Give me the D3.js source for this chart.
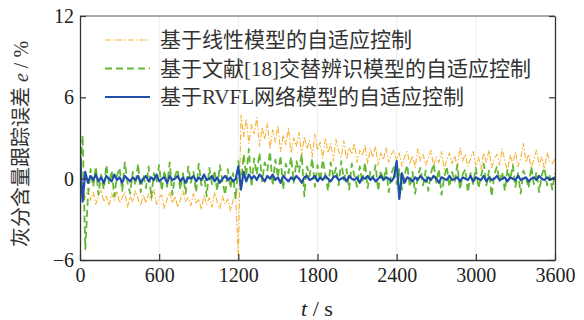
<!DOCTYPE html>
<html>
<head>
<meta charset="utf-8">
<script src="https://cdn.jsdelivr.net/npm/d3@7"></script>
<style>
  body { margin: 0; background: #fff; }
  svg { display: block; }
</style>
</head>
<body>
<svg id="chart" width="584" height="320"></svg>
<script>
// sample step of every series, in seconds
var dt = 20;

var xTicks = [0, 600, 1200, 1800, 2400, 3000, 3600];
var yTicks = [-6, 0, 6, 12];

var seriesNames = [
    "基于线性模型的自适应控制",
    "基于文献[18]交替辨识模型的自适应控制",
    "基于RVFL网络模型的自适应控制"
];

// tracking error e / %, every 20 s
var linearErr = [
    -0.3, -0.9, -1.4, -0.7, -1.6, -1.0, -1.9, -1.2, -0.8, -1.7,
    -1.3, -2.0, -1.1, -1.6, -0.9, -1.8, -1.4, -1.0, -2.1, -1.3,
    -1.7, -0.9, -1.5, -2.0, -1.2, -1.8, -1.1, -1.6, -0.8, -1.9,
    -1.4, -1.2, -2.2, -1.5, -1.0, -1.8, -1.3, -2.1, -1.6, -0.9,
    -1.7, -1.4, -2.0, -1.1, -1.8, -1.5, -2.3, -1.2, -1.9, -1.4,
    -2.1, -1.0, -1.7, -2.2, -1.3, -1.9, -1.5, -2.4, -1.6, -1.1,
    -5.9, 4.7, 3.1, 4.4, 2.6, 4.0, 3.3, 4.5, 2.4, 3.8,
    2.9, 4.1, 2.2, 3.6, 2.7, 3.9, 2.0, 3.2, 2.5, 3.7,
    1.9, 3.0, 2.4, 3.4, 1.7, 3.1, 2.2, 2.8, 1.6, 3.3,
    2.1, 2.7, 1.5, 3.0, 1.9, 2.6, 1.3, 2.9, 2.0, 1.6,
    2.8, 1.4, 2.3, 1.8, 2.6, 1.2, 2.1, 1.7, 2.5, 1.1,
    2.2, 1.6, 2.4, 1.0, 1.9, 1.4, 2.3, 1.2, 1.8, 2.1,
    1.3, 1.9, 0.9, 1.6, 2.0, 1.1, 1.7, 0.8, 2.2, 1.3,
    1.8, 1.0, 1.5, 2.1, 0.9, 1.6, 1.2, 2.0, 0.7, 1.4,
    1.9, 1.1, 1.7, 0.8, 2.3, 1.3, 1.8, 0.9, 1.5, 2.0,
    1.0, 1.6, 0.7, 1.9, 1.2, 2.1, 0.8, 1.4, 1.8, 1.0,
    2.2, 1.3, 0.6, 1.7, 1.1, 2.0, 0.9, 1.5, 2.6, 1.2,
    1.8, 0.8, 1.4, 2.1, 1.0, 1.6, 0.7, 1.9, 1.3, 1.1,
    1.5
];

var altErr = [
    0.2, 3.2, -5.2, -1.4, 0.7, -0.6, 0.9, -1.2, 0.3, -0.8,
    1.0, -0.4, 0.6, -1.3, 0.2, 0.8, -0.9, 1.2, -0.3, -1.1,
    0.5, -0.5, 1.1, -1.0, 0.3, -0.7, 0.9, -1.4, 0.4, -0.2,
    1.0, -0.9, 0.6, -0.6, 1.2, -1.2, 0.2, 0.7, -0.8, 0.4,
    -1.1, 0.9, -0.3, 0.5, -1.0, 1.1, -0.5, 0.3, -1.3, 0.8,
    -0.4, 0.6, -0.9, 1.0, -0.2, -1.2, 0.7, -0.7, 0.4, -1.5,
    1.3, -0.4, 1.8, 0.2, 2.2, -0.6, 1.5, 0.3, 1.9, -0.2,
    1.2, 0.6, 2.0, -0.5, 1.4, 0.1, 1.7, -0.8, 1.1, 0.4,
    1.6, -0.3, 1.3, 0.5, 1.8, -1.3, 0.9, 0.2, 1.5, -0.6,
    1.0, -0.2, 1.4, 0.3, -0.9, 1.2, 0.1, 0.8, -0.5, 1.3,
    -0.1, 0.7, -0.8, 1.1, 0.2, -0.6, 0.9, -0.3, 1.2, -0.7,
    0.5, 0.0, 1.0, -0.9, 0.6, -0.2, 0.8, -1.0, 0.4, 0.9,
    -0.4, 0.7, -0.8, 0.3, 1.0, -0.6, 0.5, -1.1, 0.2, 0.8,
    -0.5, 0.6, -0.9, 0.4, 1.1, -0.3, 0.7, -1.2, 0.1, 0.9,
    -0.6, 0.5, -0.2, 1.0, -0.8, 0.3, 0.7, -1.0, 0.4, -0.4,
    0.8, -0.7, 0.2, 1.1, -0.5, 0.6, -1.3, 0.3, 0.9, -0.2,
    0.5, -0.9, 0.7, -0.1, 1.0, -0.6, 0.4, -1.1, 0.6, 0.1,
    -0.7, 0.9, -0.4, 0.5, -1.0, 0.3, 0.8, -0.5, 0.2, -0.8,
    0.4
];

var rvflErr = [
    1.9, -1.7, 0.5, -0.3, 0.2, -0.1, 0.3, -0.2, 0.1, -0.3,
    0.2, 0.0, -0.2, 0.3, -0.1, 0.1, -0.3, 0.2, 0.0, -0.2,
    0.1, -0.1, 0.2, -0.3, 0.0, 0.2, -0.2, 0.1, -0.1, 0.3,
    -0.2, 0.0, 0.1, -0.3, 0.2, -0.1, 0.0, 0.2, -0.2, 0.1,
    -0.3, 0.1, 0.0, 0.2, -0.2, 0.1, -0.1, 0.3, -0.1, 0.0,
    0.2, -0.2, 0.1, -0.3, 0.0, 0.2, -0.1, 0.1, -0.2, 0.0,
    0.9, -0.8, 0.5, -0.2, 0.3, 0.0, 0.2, -0.1, 0.3, 0.1,
    -0.2, 0.2, 0.0, 0.3, -0.1, 0.1, -0.3, 0.2, 0.0, -0.2,
    0.1, -0.1, 0.2, 0.0, -0.3, 0.1, 0.2, -0.1, 0.0, 0.2,
    -0.2, 0.1, -0.1, 0.2, 0.0, -0.2, 0.1, 0.2, -0.1, 0.0,
    0.1, -0.2, 0.2, 0.0, -0.1, 0.1, -0.3, 0.1, 0.0, 0.2,
    -0.1, 0.1, -0.2, 0.0, 0.2, -0.1, 0.1, 0.0, -0.2, 0.1,
    1.3, -1.5, 0.4, -0.3, 0.1, 0.0, -0.2, 0.1, -0.1, 0.2,
    0.0, -0.2, 0.1, -0.1, 0.2, 0.0, -0.3, 0.1, 0.0, -0.1,
    0.2, -0.1, 0.0, 0.1, -0.2, 0.1, 0.0, -0.1, 0.2, -0.2,
    0.1, 0.0, -0.1, 0.2, -0.2, 0.1, -0.1, 0.0, 0.2, -0.1,
    0.0, 0.1, -0.2, 0.1, 0.0, -0.1, 0.2, -0.1, 0.0, 0.1,
    -0.2, 0.0, 0.1, -0.1, 0.2, 0.0, -0.1, 0.1, -0.1, 0.0,
    0.1
];

var margin = {top: 16, right: 29, bottom: 60, left: 80};
var width = 584 - margin.left - margin.right,
    height = 320 - margin.top - margin.bottom;

var svg = d3.select("#chart");
var g = svg.append("g")
    .attr("transform", "translate(" + margin.left + "," + margin.top + ")");

var x = d3.scaleLinear().domain([0, 3600]).range([0, width]);
var y = d3.scaleLinear().domain([-6, 12]).range([height, 0]);

var numFont = "'Liberation Serif', 'Times New Roman', 'Noto Sans CJK SC', serif";

// faint vertical grid
g.selectAll("line.grid")
    .data(xTicks.slice(1, -1))
    .enter().append("line")
    .attr("class", "grid")
    .attr("x1", function(d) { return x(d); })
    .attr("x2", function(d) { return x(d); })
    .attr("y1", 0)
    .attr("y2", height)
    .style("stroke", "#ececec")
    .style("stroke-width", 1);

var series = [
    {name: seriesNames[0], values: linearErr, color: "#f7b233", width: 1.1, dash: "6,2,1.5,2"},
    {name: seriesNames[1], values: altErr, color: "#62b832", width: 1.8, dash: "7,4"},
    {name: seriesNames[2], values: rvflErr, color: "#1f4fa6", width: 2.2, dash: null}
];

var line = d3.line()
    .x(function(d, i) { return x(i * dt); })
    .y(function(d) { return y(d); });

g.append("clipPath").attr("id", "clip")
    .append("rect").attr("width", width).attr("height", height);

g.selectAll("path.err")
    .data(series)
    .enter().append("path")
    .attr("class", "err")
    .attr("clip-path", "url(#clip)")
    .attr("d", function(d) { return line(d.values); })
    .style("fill", "none")
    .style("stroke", function(d) { return d.color; })
    .style("stroke-width", function(d) { return d.width; })
    .style("stroke-dasharray", function(d) { return d.dash; })
    .style("stroke-linejoin", "round");

// frame: top border thin
g.append("line")
    .attr("x1", 0).attr("x2", width).attr("y1", 0).attr("y2", 0)
    .style("stroke", "#555").style("stroke-width", 1);

var xAxis = g.append("g")
    .attr("transform", "translate(0," + height + ")")
    .call(d3.axisBottom(x).tickValues(xTicks).tickFormat(d3.format("d"))
        .tickSizeInner(-6).tickSizeOuter(0).tickPadding(8));

var yAxis = g.append("g")
    .call(d3.axisLeft(y).tickValues(yTicks).tickSizeInner(-6).tickSizeOuter(0).tickPadding(6)
        .tickFormat(function(d) { return d < 0 ? "\u2212" + Math.abs(d) : d; }));

var yRight = g.append("g")
    .attr("transform", "translate(" + width + ",0)")
    .call(d3.axisRight(y).tickValues(yTicks).tickSizeInner(-6).tickSizeOuter(0).tickFormat(""));

[xAxis, yAxis, yRight].forEach(function(a) {
    a.select(".domain").style("stroke", "#333").style("stroke-width", 1.3);
    a.selectAll(".tick line").style("stroke", "#333").style("stroke-width", 1.2);
    a.selectAll("text")
        .style("font-family", numFont)
        .style("font-size", "20px")
        .style("fill", "#222");
});

// legend
var legend = g.selectAll("g.legend")
    .data(series)
    .enter().append("g")
    .attr("class", "legend")
    .attr("transform", function(d, i) { return "translate(25," + (24 + i * 28.5) + ")"; });

legend.append("line")
    .attr("x1", 0).attr("x2", 45)
    .style("stroke", function(d) { return d.color; })
    .style("stroke-width", function(d) { return d.width; })
    .style("stroke-dasharray", function(d) { return d.dash; });

legend.append("text")
    .attr("x", 55)
    .attr("dy", "0.35em")
    .style("font-family", numFont)
    .style("font-size", "21px")
    .style("fill", "#333")
    .text(function(d) { return d.name; });

// axis titles
var xTitle = svg.append("text")
    .attr("x", 317)
    .attr("y", 316)
    .attr("text-anchor", "middle")
    .style("font-family", numFont)
    .style("font-size", "22px")
    .style("fill", "#222");
xTitle.append("tspan").style("font-style", "italic").text("t");
xTitle.append("tspan").text(" / s");

var yTitle = svg.append("text")
    .attr("transform", "translate(28,144) rotate(-90)")
    .attr("text-anchor", "middle")
    .style("font-family", numFont)
    .style("font-size", "20px")
    .style("fill", "#333");
yTitle.append("tspan").text("灰分含量跟踪误差 ");
yTitle.append("tspan").style("font-style", "italic").text("e");
yTitle.append("tspan").text(" / %");
</script>
</body>
</html>
